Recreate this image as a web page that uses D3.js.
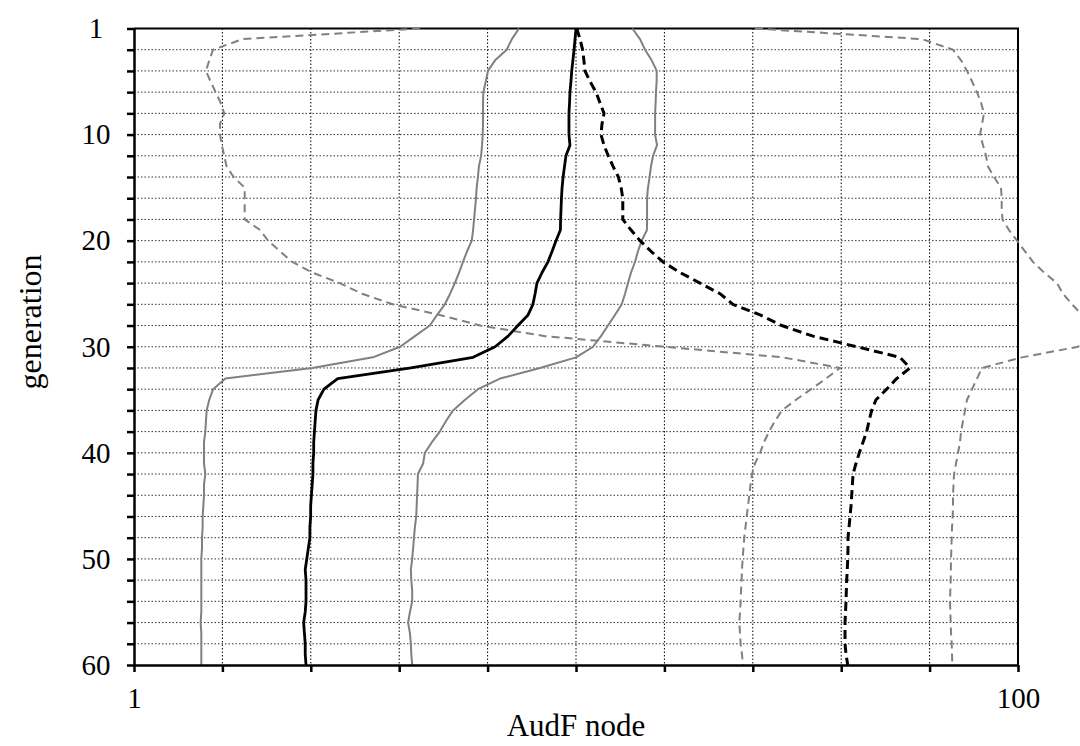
<!DOCTYPE html>
<html>
<head>
<meta charset="utf-8">
<script src="https://cdn.jsdelivr.net/npm/d3@7"></script>
<style>
  body { margin: 0; background: #fff; }
  text { font-family: "Liberation Serif", "Times New Roman", serif; fill: #000; }
</style>
</head>
<body>
<svg id="chart" width="1080" height="746"></svg>
<script>
// Generation index (0 = first generation, drawn at the top)
const generations = d3.range(0, 61);

// Solid series: median with lower / upper envelope
const solidMedian = [10.0, 9.95, 9.90, 9.84, 9.78, 9.74, 9.69, 9.67, 9.64, 9.64,
  9.64, 9.69, 9.49, 9.42, 9.35, 9.30, 9.27, 9.25, 9.23, 9.22,
  9.01, 8.83, 8.64, 8.38, 8.16, 8.08, 7.99, 7.79, 7.39, 7.02,
  6.56, 5.85, 4.23, 2.89, 2.69, 2.61, 2.58, 2.57, 2.56, 2.55,
  2.55, 2.54, 2.54, 2.53, 2.52, 2.51, 2.51, 2.50, 2.50, 2.48,
  2.46, 2.44, 2.45, 2.45, 2.45, 2.44, 2.42, 2.43, 2.44, 2.44, 2.45];
const solidLow = [7.43, 7.16, 6.97, 6.56, 6.32, 6.25, 6.17, 6.16, 6.16, 6.16,
  6.15, 6.13, 6.10, 6.03, 6.00, 5.96, 5.94, 5.91, 5.88, 5.85,
  5.81, 5.67, 5.55, 5.44, 5.32, 5.19, 5.05, 4.85, 4.67, 4.32,
  4.00, 3.47, 2.53, 1.61, 1.51, 1.48, 1.46, 1.455, 1.45, 1.44,
  1.44, 1.44, 1.45, 1.44, 1.44, 1.435, 1.43, 1.43, 1.425, 1.425,
  1.42, 1.42, 1.42, 1.42, 1.42, 1.42, 1.415, 1.42, 1.42, 1.42, 1.42];
const solidHigh = [13.41, 13.96, 14.33, 14.83, 15.23, 15.22, 15.17, 15.14, 15.10, 15.10,
  15.10, 15.25, 14.94, 14.78, 14.67, 14.55, 14.48, 14.48, 14.48, 14.47,
  14.08, 13.81, 13.60, 13.32, 13.11, 12.91, 12.69, 12.25, 11.81, 11.39,
  10.93, 10.0, 8.29, 6.73, 6.00, 5.61, 5.27, 5.08, 4.92, 4.72,
  4.55, 4.51, 4.39, 4.38, 4.37, 4.36, 4.35, 4.32, 4.30, 4.28,
  4.26, 4.23, 4.24, 4.26, 4.26, 4.21, 4.17, 4.21, 4.23, 4.24, 4.26];

// Dashed series: median with lower / upper envelope
const dashedMedian = [10.04, 10.21, 10.35, 10.42, 10.48, 10.76, 11.10, 11.33, 11.57, 11.45,
  11.39, 11.57, 11.83, 12.13, 12.47, 12.65, 12.76, 12.76, 12.76, 13.32,
  13.96, 14.78, 15.73, 17.19, 19.08, 21.17, 22.65, 26.09, 29.20, 34.38,
  43.16, 54.08, 56.97, 53.16, 50.46, 47.72, 46.67, 46.02, 45.47, 44.60,
  43.75, 43.00, 42.34, 42.20, 42.05, 41.90, 41.68, 41.47, 41.25, 41.25,
  41.19, 41.09, 40.97, 40.89, 40.82, 40.72, 40.61, 40.61, 40.61, 40.82, 41.19];
const dashedLow = [4.44, 1.76, 1.51, 1.48, 1.455, 1.49, 1.53, 1.57, 1.60, 1.565,
  1.565, 1.58, 1.60, 1.62, 1.68, 1.78, 1.78, 1.78, 1.78, 1.93,
  2.01, 2.14, 2.28, 2.53, 2.92, 3.28, 3.85, 4.92, 6.07, 8.51,
  15.90, 29.39, 39.56, 36.78, 34.02, 31.46, 29.24, 28.20, 27.33, 26.63,
  26.09, 25.41, 25.02, 24.82, 24.67, 24.50, 24.33, 24.18, 24.03, 23.92,
  23.83, 23.74, 23.70, 23.62, 23.58, 23.50, 23.41, 23.50, 23.58, 23.74, 23.87];
const dashedHigh = [25.41, 60.64, 71.28, 74.32, 76.68, 78.70, 80.78, 82.48, 83.78, 82.91,
  82.05, 83.34, 84.65, 85.54, 88.25, 91.52, 91.86, 91.86, 92.24, 95.41,
  99.48, 103.7, 108.1, 114.5, 122.5, 126.4, 132.5, 139.6, 145.5, 145.5,
  136.7, 102.1, 82.91, 80.78, 78.70, 76.68, 75.88, 75.09, 74.32, 73.93,
  73.17, 72.41, 71.66, 71.47, 71.28, 71.28, 71.17, 70.92, 70.81, 70.66,
  70.55, 70.48, 70.44, 70.29, 70.18, 70.29, 70.44, 70.55, 70.81, 70.92, 71.03];

// Axis ticks
const genTicks = [0, 10, 20, 30, 40, 50, 60];
const genTickLabels = ["1", "10", "20", "30", "40", "50", "60"];
const genGridStep = 2;
const xGridValues = d3.range(0, 11).map(k => Math.pow(10, k / 5));
const xLabelValues = [1, 100];

const margin = { left: 134, right: 62, top: 28.5, bottom: 81 };
const W = 1080, H = 746;
const svg = d3.select("#chart");
const serif = "'Liberation Serif','Times New Roman',serif";

const x = d3.scaleLog().domain([1, 100]).range([margin.left, W - margin.right]);
const y = d3.scaleLinear().domain([0, 60]).range([margin.top, H - margin.bottom]);

// Grid
const grid = svg.append("g");
grid.selectAll("line.h")
  .data(d3.range(genGridStep, 60, genGridStep))
  .join("line")
  .attr("x1", x(1)).attr("x2", x(100))
  .attr("y1", d => y(d)).attr("y2", d => y(d))
  .attr("stroke", "#333").attr("stroke-width", 1)
  .attr("stroke-dasharray", "1.5,2");
grid.selectAll("line.v")
  .data(xGridValues.slice(1, -1))
  .join("line")
  .attr("x1", d => x(d)).attr("x2", d => x(d))
  .attr("y1", y(0)).attr("y2", y(60))
  .attr("stroke", "#000").attr("stroke-width", 1)
  .attr("stroke-dasharray", "1.5,2");

// Plot frame (top and right)
svg.append("path")
  .attr("d", `M${x(1)},${y(0)}H${x(100)}V${y(60)}`)
  .attr("fill", "none").attr("stroke", "#000").attr("stroke-width", 2);

// Series
const line = vals => d3.line()
  .x((d, i) => x(vals[i]))
  .y(d => y(d))(generations);

const series = [
  { vals: solidLow, color: "#808080", width: 2, dash: null },
  { vals: solidHigh, color: "#808080", width: 2, dash: null },
  { vals: dashedLow, color: "#808080", width: 2, dash: "8,5" },
  { vals: dashedHigh, color: "#808080", width: 2, dash: "8,5" },
  { vals: solidMedian, color: "#000", width: 2.8, dash: null },
  { vals: dashedMedian, color: "#000", width: 3, dash: "9,5" }
];
svg.append("g").selectAll("path")
  .data(series)
  .join("path")
  .attr("d", s => line(s.vals))
  .attr("fill", "none")
  .attr("stroke", s => s.color)
  .attr("stroke-width", s => s.width)
  .attr("stroke-dasharray", s => s.dash)
  .attr("stroke-linejoin", "round");

// Y axis
const yAxis = d3.axisLeft(y)
  .tickValues(d3.range(0, 61, genGridStep))
  .tickSize(7)
  .tickSizeOuter(0)
  .tickFormat(d => {
    const i = genTicks.indexOf(d);
    return i >= 0 ? genTickLabels[i] : "";
  });
const gy = svg.append("g").attr("transform", `translate(${x(1)},0)`).call(yAxis);
gy.select(".domain").attr("stroke", "#000").attr("stroke-width", 2.5);
gy.selectAll(".tick line").attr("stroke", "#000").attr("stroke-width", 2.5);
gy.selectAll(".tick text")
  .attr("x", -38)
  .attr("text-anchor", "middle")
  .attr("font-size", 29)
  .style("font-family", serif);

// X axis
const xAxis = d3.axisBottom(x)
  .tickValues(xGridValues)
  .tickSize(7)
  .tickSizeOuter(0)
  .tickFormat(d => {
    const m = xLabelValues.find(v => Math.abs(v - d) < 1e-6);
    return m !== undefined ? String(m) : "";
  });
const gx = svg.append("g").attr("transform", `translate(0,${y(60)})`).call(xAxis);
gx.select(".domain").attr("stroke", "#000").attr("stroke-width", 2.5);
gx.selectAll(".tick line").attr("stroke", "#000").attr("stroke-width", 2.5);
gx.selectAll(".tick text")
  .attr("y", 22)
  .attr("font-size", 29)
  .style("font-family", serif);

// Axis titles
svg.append("text")
  .attr("x", x(10)).attr("y", 736)
  .attr("text-anchor", "middle")
  .attr("font-size", 31)
  .style("font-family", serif)
  .text("AudF node");
svg.append("text")
  .attr("transform", `translate(41,322) rotate(-90)`)
  .attr("text-anchor", "middle")
  .attr("font-size", 32)
  .style("font-family", serif)
  .text("generation");
</script>
</body>
</html>
